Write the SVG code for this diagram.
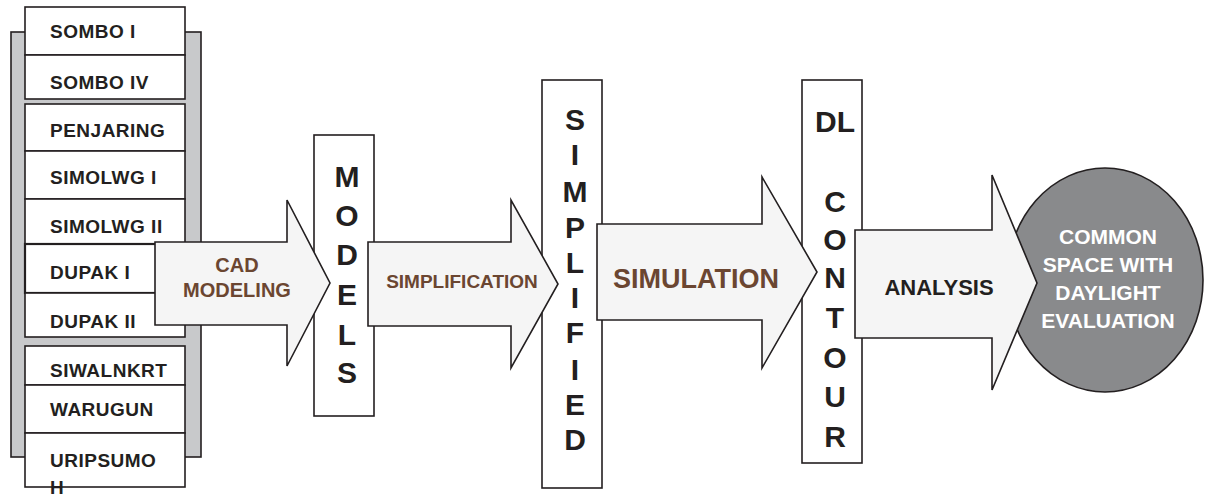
<svg xmlns="http://www.w3.org/2000/svg" width="1205" height="495" viewBox="0 0 1205 495">
  <style>
    .box { fill: #ffffff; stroke: #231f20; stroke-width: 1.6; }
    .panel { fill: #c8c9cb; stroke: #231f20; stroke-width: 1.6; }
    .arrow { fill: #f5f5f5; stroke: #231f20; stroke-width: 1.6; stroke-linejoin: miter; }
    .oval { fill: #898a8c; stroke: #231f20; stroke-width: 1.6; }
    .site { font-family: "Liberation Sans", Arial, sans-serif; font-weight: bold; font-size: 19px; letter-spacing: 0.5px; fill: #231f20; }
    .stack { font-family: "Liberation Sans", Arial, sans-serif; font-weight: bold; font-size: 30px; fill: #231f20; text-anchor: middle; }
    .step { font-family: "Liberation Sans", Arial, sans-serif; font-weight: bold; fill: #6b4631; text-anchor: middle; }
    .dark { font-family: "Liberation Sans", Arial, sans-serif; font-weight: bold; fill: #231f20; text-anchor: middle; }
    .light { font-family: "Liberation Sans", Arial, sans-serif; font-weight: bold; font-size: 21px; fill: #ffffff; text-anchor: middle; }
  </style>

  <!-- Case-study buildings list -->
  <g id="sites">
    <rect class="panel" x="11" y="32" width="190" height="425"/>
    <g id="sombo-1"><rect class="box" x="25" y="7" width="160" height="48"/><text class="site" x="50" y="38">SOMBO I</text></g>
    <g id="sombo-4"><rect class="box" x="25" y="55" width="160" height="44"/><text class="site" x="50" y="89">SOMBO IV</text></g>
    <g id="penjaring"><rect class="box" x="25" y="104" width="160" height="47"/><text class="site" x="50" y="137">PENJARING</text></g>
    <g id="simolwg-1"><rect class="box" x="25" y="151" width="160" height="48"/><text class="site" x="50" y="184">SIMOLWG I</text></g>
    <g id="simolwg-2"><rect class="box" x="25" y="199" width="160" height="45"/><text class="site" x="50" y="233">SIMOLWG II</text></g>
    <g id="dupak-1"><rect class="box" x="25" y="244" width="160" height="49" style="stroke-width:2.2"/><text class="site" x="50" y="279">DUPAK I</text></g>
    <g id="dupak-2"><rect class="box" x="25" y="293" width="160" height="44"/><text class="site" x="50" y="328">DUPAK II</text></g>
    <g id="siwalnkrt"><rect class="box" x="25" y="346" width="160" height="39"/><text class="site" x="50" y="377">SIWALNKRT</text></g>
    <g id="warugun"><rect class="box" x="25" y="385" width="160" height="48"/><text class="site" x="50" y="416">WARUGUN</text></g>
    <g id="uripsumoh"><rect class="box" x="25" y="433" width="160" height="54"/><text class="site" x="50" y="467">URIPSUMO</text><text class="site" x="50" y="494">H</text></g>
  </g>

  <!-- Vertical stage boxes -->
  <g id="models">
    <rect class="box" x="314" y="135" width="60" height="281"/>
    <text class="stack" x="347" y="187">M</text>
    <text class="stack" x="347" y="226">O</text>
    <text class="stack" x="347" y="265">D</text>
    <text class="stack" x="347" y="305">E</text>
    <text class="stack" x="347" y="345">L</text>
    <text class="stack" x="347" y="383">S</text>
  </g>

  <g id="simplified">
    <rect class="box" x="542" y="80" width="60" height="408"/>
    <text class="stack" x="575" y="130">S</text>
    <text class="stack" x="575" y="165">I</text>
    <text class="stack" x="575" y="202">M</text>
    <text class="stack" x="575" y="238">P</text>
    <text class="stack" x="575" y="273">L</text>
    <text class="stack" x="575" y="308">I</text>
    <text class="stack" x="575" y="343">F</text>
    <text class="stack" x="575" y="380">I</text>
    <text class="stack" x="575" y="415">E</text>
    <text class="stack" x="575" y="450">D</text>
  </g>

  <g id="dl-contour">
    <rect class="box" x="802" y="80" width="60" height="383"/>
    <text class="stack" x="835" y="132">DL</text>
    <text class="stack" x="835" y="212">C</text>
    <text class="stack" x="835" y="250">O</text>
    <text class="stack" x="835" y="288">N</text>
    <text class="stack" x="835" y="328">T</text>
    <text class="stack" x="835" y="368">O</text>
    <text class="stack" x="835" y="407">U</text>
    <text class="stack" x="835" y="447">R</text>
  </g>

  <g id="evaluation">
    <ellipse class="oval" cx="1105" cy="280" rx="98" ry="112"/>
    <text class="light" x="1108" y="244">COMMON</text>
    <text class="light" x="1108" y="272">SPACE WITH</text>
    <text class="light" x="1108" y="300">DAYLIGHT</text>
    <text class="light" x="1108" y="328">EVALUATION</text>
  </g>

  <!-- Process arrows between stages -->
  <g id="connectors">
    <g id="cad-modeling">
      <polygon class="arrow" points="155,242 287,242 287,200 330,283 287,366 287,325 155,325"/>
      <text class="step" x="237" y="272" font-size="20">CAD</text>
      <text class="step" x="237" y="297" font-size="20">MODELING</text>
    </g>
    <g id="simplification">
      <polygon class="arrow" points="368,242 511,242 511,200 558,284 511,368 511,326 368,326"/>
      <text class="step" x="462" y="288" font-size="19">SIMPLIFICATION</text>
    </g>
    <g id="simulation">
      <polygon class="arrow" points="597,224 762,224 762,177 817,272 762,368 762,320 597,320"/>
      <text class="step" x="696" y="288" font-size="27">SIMULATION</text>
    </g>
    <g id="analysis">
      <polygon class="arrow" points="855,230 992,230 992,175 1037,283 992,390 992,338 855,338"/>
      <text class="dark" x="939" y="295" font-size="22">ANALYSIS</text>
    </g>
  </g>
</svg>
